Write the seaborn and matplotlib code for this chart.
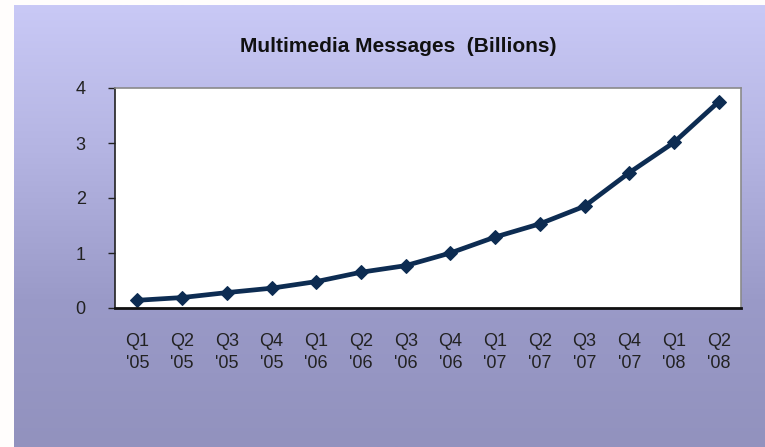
import numpy as np
import pandas as pd
import matplotlib
matplotlib.use("Agg")
import matplotlib.pyplot as plt
import seaborn as sns
from matplotlib.colors import LinearSegmentedColormap
from matplotlib import font_manager

quarters = ["Q1\n'05", "Q2\n'05", "Q3\n'05", "Q4\n'05",
            "Q1\n'06", "Q2\n'06", "Q3\n'06", "Q4\n'06",
            "Q1\n'07", "Q2\n'07", "Q3\n'07", "Q4\n'07",
            "Q1\n'08", "Q2\n'08"]
messages = [0.14, 0.19, 0.28, 0.36, 0.48, 0.65, 0.77, 1.0,
            1.29, 1.53, 1.85, 2.46, 3.01, 3.75]
yticks = [0, 1, 2, 3, 4]
title = "Multimedia Messages  (Billions)"

df = pd.DataFrame({"quarter": quarters, "value": messages})

sns.set_theme(style="white")
names = {f.name for f in font_manager.fontManager.ttflist}
fam = ['Liberation Sans Narrow', 'Liberation Sans', 'DejaVu Sans']
fam = [f for f in fam if f in names] or ['DejaVu Sans']
plt.rcParams['font.family'] = fam

W, H = 765, 447
fig = plt.figure(figsize=(W / 100, H / 100), dpi=100)
fig.patch.set_facecolor("#FFFDFC")

# gradient background panel
bg = fig.add_axes([14 / W, 0, 1 - 14 / W, 1 - 5 / H])
cmap = LinearSegmentedColormap.from_list("lav", ["#C9C9F6", "#B4B4E2", "#9A9AC8", "#9292BE"])
grad = np.linspace(0, 1, 256).reshape(-1, 1)
bg.imshow(grad, aspect="auto", cmap=cmap, extent=[0, 1, 0, 1], origin="upper")
bg.set_axis_off()

# plot area
left, right, top, bottom = 115, 741, 88, 308
ax = fig.add_axes([left / W, 1 - bottom / H, (right - left) / W, (bottom - top) / H])
ax.set_facecolor("white")
sns.lineplot(data=df, x="quarter", y="value", ax=ax, sort=False,
             color="#0D2C52", linewidth=3.4, marker="D", markersize=7.5,
             markeredgecolor="#0D2C52", markerfacecolor="#0D2C52")

ax.set_xlim(-0.5, len(quarters) - 0.5)
ax.set_ylim(0, 4)
ax.set_yticks(yticks)
ax.set_yticklabels([str(t) for t in yticks], fontsize=13, color="#222222")
ax.set_xticks(np.arange(len(quarters) + 1) - 0.5, minor=False)
ax.set_xticklabels([])
ax.set_xticks(np.arange(len(quarters)), minor=True)
ax.set_xticklabels(quarters, minor=True, fontsize=13, color="#222222",
                   linespacing=1.35)
ax.tick_params(axis="x", which="major", direction="out", length=6, width=1, color="#222222")
ax.tick_params(axis="x", which="minor", length=0, pad=18)
ax.tick_params(axis="y", direction="out", length=5, width=1, color="#222222", pad=16, left=True)
ax.set_xlabel("")
ax.set_ylabel("")

for s in ["top", "right"]:
    ax.spines[s].set_color("#8A8A8A")
    ax.spines[s].set_linewidth(1.2)
ax.spines["left"].set_color("#222222")
ax.spines["left"].set_linewidth(1.2)
ax.spines["bottom"].set_color("#111111")
ax.spines["bottom"].set_linewidth(2)

fig.text(398 / W, 1 - 47 / H, title, ha="center", va="center",
         fontsize=15, fontweight="bold", color="#111111")

fig.savefig("out.png", dpi=100, facecolor=fig.get_facecolor())
